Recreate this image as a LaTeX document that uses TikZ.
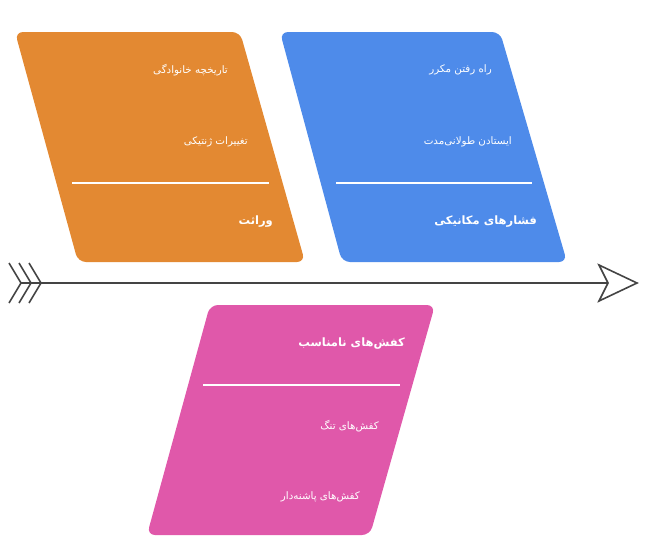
\documentclass[tikz,border=0pt]{standalone}
\usepackage{fontspec}
\newfontfamily\fa[Script=Arabic]{DejaVu Sans}
\TeXXeTstate=1
\definecolor{orangebox}{RGB}{227,137,50}
\definecolor{bluebox}{RGB}{78,139,234}
\definecolor{pinkbox}{RGB}{224,88,170}
\definecolor{axisgray}{RGB}{68,68,68}
\tikzset{
  card/.style={rounded corners=8pt, draw=none},
  divider/.style={draw=white, line width=1.3pt},
  itemtext/.style={anchor=east, text=white, inner sep=0pt, font=\fa\fontsize{10.3}{12}\selectfont},
  titletext/.style={anchor=east, text=white, inner sep=0pt, font=\fa\bfseries\fontsize{11.5}{13}\selectfont},
  axisline/.style={draw=axisgray, line width=1.6pt},
}
\begin{document}
\begin{tikzpicture}[x=1pt,y=-1pt]
\useasboundingbox (0,0) rectangle (648,558);
% cards
\fill[orangebox, card] (15,32) -- (240,32) -- (305,262) -- (78,262) -- cycle;
\fill[bluebox, card] (280,32) -- (500,32) -- (567,262) -- (342,262) -- cycle;
\fill[pinkbox, card] (210,305) -- (435,305) -- (370,535) -- (147,535) -- cycle;
% dividers
\draw[divider] (72,183) -- (269,183);
\draw[divider] (336,183) -- (532,183);
\draw[divider] (203,385) -- (400,385);
% texts
\node[itemtext] (o1) at (228,70) {\beginR تاریخچه خانوادگی\endR};
\node[itemtext] (o2) at (248,142) {\beginR تغییرات ژنتیکی\endR};
\node[titletext] (ot) at (273,222) {\beginR وراثت\endR};
\node[itemtext] (b1) at (492,70) {\beginR راه رفتن مکرر\endR};
\node[itemtext] (b2) at (512,142) {\beginR ایستادن طولانی^^^^200cمدت\endR};
\node[titletext] (bt) at (537,222) {\beginR فشارهای مکانیکی\endR};
\node[titletext] (pt) at (405,344) {\beginR کفش^^^^200cهای نامناسب\endR};
\node[itemtext] (p1) at (379,426) {\beginR کفش^^^^200cهای تنگ\endR};
\node[itemtext] (p2) at (360,497) {\beginR کفش^^^^200cهای پاشنه^^^^200cدار\endR};
% axis
\coordinate (tail) at (21,283);
\coordinate (notch) at (608,283);
\draw[axisline] (tail) -- (notch);
\foreach \dx in {0,10,20}{
  \draw[axisline] ([xshift=\dx pt-12pt, yshift=20pt]tail) -- ([xshift=\dx pt]tail) -- ([xshift=\dx pt-12pt, yshift=-20pt]tail);
}
\draw[axisline, fill=white, line join=miter] (notch) -- ([xshift=-9pt, yshift=18pt]notch) -- ([xshift=29pt]notch) -- ([xshift=-9pt, yshift=-18pt]notch) -- cycle;
\end{tikzpicture}
\end{document}
